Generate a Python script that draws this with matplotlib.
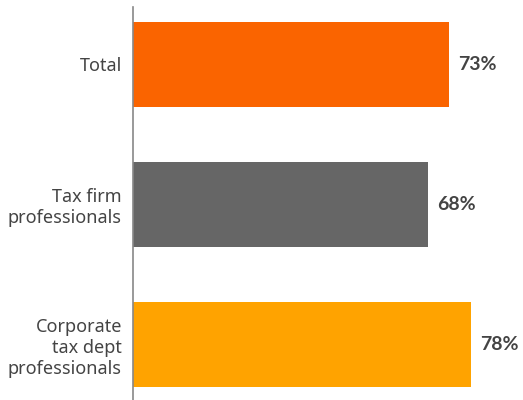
import matplotlib
matplotlib.use("Agg")
import matplotlib.pyplot as plt

# valeurs du graphique
categories = ["Total", "Tax firm\nprofessionals", "Corporate\ntax dept\nprofessionals"]
values = [73, 68, 78]
colors = ["#FA6400", "#666666", "#FFA300"]

plt.rcParams['font.family'] = ['Noto Sans', 'DejaVu Sans']

fig = plt.figure(figsize=(5.23, 4.0), dpi=100)
ax = fig.add_axes([133 / 523, 0, 1 - 133 / 523, 1 - 7 / 400])

y = list(range(len(categories)))
ax.barh(y, values, height=0.607, color=colors)

# étiquettes de valeur à droite des barres
for yi, v in zip(y, values):
    ax.text(v + 2.1, yi, f"{v}%", va="center", ha="left",
            fontsize=14, fontweight="bold", color="#444444",
            family=["Lato", "DejaVu Sans"])

ax.set_xlim(0, 90)
ax.set_ylim(2.396, -0.41)
ax.set_yticks(y)
ax.set_yticklabels(categories, fontsize=13, color="#444444", linespacing=1.2)
ax.tick_params(axis="y", length=0, pad=8)
ax.set_xticks([])

for s in ["top", "right", "bottom"]:
    ax.spines[s].set_visible(False)
ax.spines["left"].set_color("#888888")
ax.spines["left"].set_linewidth(1.2)

fig.savefig("out.png", dpi=100)
